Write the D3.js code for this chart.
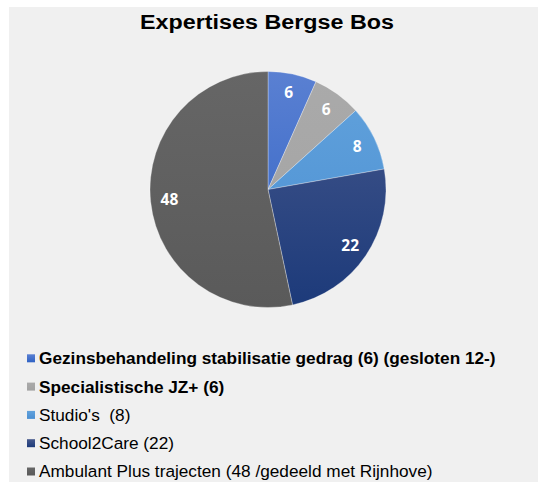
<!DOCTYPE html>
<html><head><meta charset="utf-8">
<script src="https://cdn.jsdelivr.net/npm/d3@7"></script>
<style>html,body{margin:0;padding:0;background:#fff;}svg{display:block;}text{white-space:pre;}</style>
</head><body>
<script>
const categories = [
  "Gezinsbehandeling stabilisatie gedrag (6) (gesloten 12-)",
  "Specialistische JZ+ (6)",
  "Studio's  (8)",
  "School2Care (22)",
  "Ambulant Plus trajecten (48 /gedeeld met Rijnhove)"
];
const values = [6, 6, 8, 22, 48];
const boldLegend = [true, true, false, false, false];
const colorsTop = ["#5a80d2", "#aaaaaa", "#62a2dc", "#46588c", "#666666"];
const colorsBottom = ["#2f62c4", "#a2a2a2", "#4a8fd2", "#1c3a7a", "#5a5a5a"];
const title = "Expertises Bergse Bos";

const W = 538, H = 482;
const svg = d3.select("body").append("svg").attr("width", W).attr("height", H);
svg.append("rect").attr("x", 9).attr("y", 7).attr("width", W - 9).attr("height", H - 7).attr("fill", "#f0f0f0");

svg.append("text").attr("x", 140).attr("y", 28.5)
  .attr("textLength", 254).attr("lengthAdjust", "spacingAndGlyphs")
  .attr("font-family", "Liberation Sans, Arial, sans-serif").attr("font-weight", "bold")
  .attr("font-size", 19.5).attr("fill", "#000").text(title);

const cx = 268, cy = 189.5, R = 118;
const defs = svg.append("defs");
values.forEach((v, i) => {
  const g = defs.append("linearGradient").attr("id", "g" + i)
    .attr("gradientUnits", "userSpaceOnUse")
    .attr("x1", 0).attr("y1", -R).attr("x2", 0).attr("y2", R);
  g.append("stop").attr("offset", "0%").attr("stop-color", colorsTop[i]);
  g.append("stop").attr("offset", "100%").attr("stop-color", colorsBottom[i]);
  const lg = defs.append("linearGradient").attr("id", "lg" + i).attr("x1", 0).attr("y1", 0).attr("x2", 0).attr("y2", 1);
  lg.append("stop").attr("offset", "0%").attr("stop-color", colorsTop[i]);
  lg.append("stop").attr("offset", "100%").attr("stop-color", colorsBottom[i]);
});

const pie = d3.pie().sort(null).value(d => d)(values);
const arc = d3.arc().innerRadius(0).outerRadius(R);
const labelArc = d3.arc().innerRadius(R * 0.84).outerRadius(R * 0.84);
const gp = svg.append("g").attr("transform", `translate(${cx},${cy})`);
gp.selectAll("path").data(pie).join("path")
  .attr("d", arc).attr("fill", (d, i) => `url(#g${i})`)
  .attr("stroke", "rgba(255,255,255,0.5)").attr("stroke-width", 0.6);
gp.selectAll("text").data(pie).join("text")
  .attr("transform", d => `translate(${labelArc.centroid(d)})`)
  .attr("text-anchor", "middle").attr("dy", "0.36em")
  .attr("font-family", "Open Sans, Liberation Sans, sans-serif").attr("font-weight", "bold")
  .attr("font-size", 15.5).attr("fill", "#fff").text(d => d.data);

const leg = svg.append("g");
const rows = leg.selectAll("g").data(categories).join("g")
  .attr("transform", (d, i) => `translate(27,${358.3 + i * 28.3})`);
rows.append("rect").attr("x", 0).attr("y", -4).attr("width", 8).attr("height", 8)
  .attr("fill", (d, i) => `url(#lg${i})`);
rows.append("text").attr("transform", "translate(12,0) scale(1.045,1)").attr("dy", "0.36em")
  .attr("font-family", "Liberation Sans, Arial, sans-serif")
  .attr("font-weight", (d, i) => boldLegend[i] ? "bold" : "normal")
  .attr("font-size", 16.5).attr("fill", "#000").text(d => d);
</script>
</body></html>
